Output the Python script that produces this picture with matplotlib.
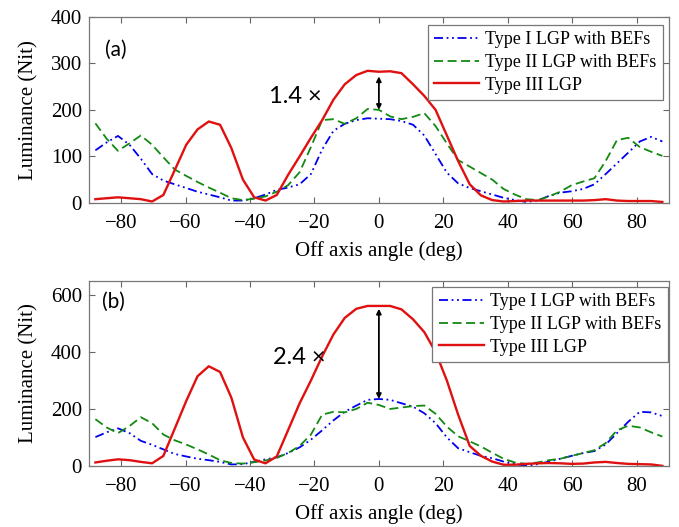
import matplotlib
matplotlib.use("Agg")
import matplotlib.pyplot as plt

plt.rcParams['font.family'] = ['Liberation Serif', 'DejaVu Serif']

# Off-axis angles (deg) shared by all measured profiles
ANGLES = [-88.0, -84.5, -81.0, -77.4, -73.9, -70.4, -66.9, -63.4, -59.8, -56.3,
          -52.8, -49.3, -45.8, -42.2, -38.7, -35.2, -31.7, -28.2, -24.6, -21.1,
          -17.6, -14.1, -10.6, -7.0, -3.5, 0.0, 3.5, 7.0, 10.6, 14.1,
          17.6, 21.1, 24.6, 28.2, 31.7, 35.2, 38.7, 42.2, 45.8, 49.3,
          52.8, 56.3, 59.8, 63.4, 66.9, 70.4, 73.9, 77.4, 81.0, 84.5, 88.0]

# (a) luminance (Nit)
type1_a = [113, 130, 144, 125, 95, 62, 48, 40, 32, 24,
           18, 12, 5, 5, 10, 18, 28, 33, 40, 62,
           115, 155, 170, 178, 182, 181, 180, 176, 168, 145,
           105, 65, 42, 32, 25, 18, 11, 6, 2, 5,
           15, 22, 25, 30, 40, 62, 85, 108, 132, 142, 132]
type2_a = [171, 138, 112, 128, 145, 125, 98, 72, 58, 45,
           33, 22, 10, 6, 9, 14, 24, 38, 66, 120,
           178, 180, 170, 182, 202, 200, 186, 180, 185, 193,
           165, 128, 92, 78, 64, 50, 30, 18, 8, 6,
           14, 24, 38, 46, 53, 90, 135, 140, 120, 110, 101]
type3_a = [8, 10, 12, 10, 8, 3, 17, 70, 125, 158,
           175, 168, 118, 50, 12, 5, 17, 60, 100, 140,
           178, 222, 255, 275, 284, 282, 283, 279, 255, 230,
           200, 145, 90, 40, 16, 6, 3, 4, 5, 5,
           5, 5, 5, 5, 6, 8, 5, 4, 4, 4, 2]

# (b) luminance (Nit)
type1_b = [101, 118, 132, 115, 88, 74, 58, 42, 33, 25,
           20, 14, 5, 6, 14, 23, 30, 45, 65, 92,
           125, 160, 190, 212, 232, 235, 232, 220, 208, 185,
           150, 100, 62, 48, 35, 27, 15, 6, 0, 6,
           15, 25, 35, 45, 52, 75, 115, 155, 190, 188, 175]
type2_b = [164, 135, 115, 140, 171, 150, 110, 90, 75, 58,
           40, 20, 10, 8, 13, 19, 28, 45, 70, 110,
           180, 190, 188, 200, 222, 214, 200, 205, 210, 212,
           183, 138, 104, 86, 68, 46, 25, 12, 7, 12,
           20, 25, 35, 45, 55, 80, 125, 141, 135, 118, 103]
type3_b = [12, 18, 23, 20, 14, 9, 35, 130, 228, 315,
           350, 330, 240, 100, 22, 9, 33, 125, 220, 300,
           385, 462, 520, 552, 562, 562, 562, 550, 515, 470,
           400, 300, 180, 70, 35, 15, 4, 4, 7, 9,
           10, 9, 7, 8, 12, 14, 10, 7, 6, 5, 0]

LABELS = ['Type I LGP with BEFs', 'Type II LGP with BEFs', 'Type III LGP']
XTICKS = [-80, -60, -40, -20, 0, 20, 40, 60, 80]

panels = [
    dict(data=(type1_a, type2_a, type3_a), ylim=(0, 400), yticks=[0, 100, 200, 300, 400],
         tag='(a)', tag_xy=(-85, 329), ratio_xy=(-34, 228), leg=(0.99, 0.957),
         rect=[0.131, 0.615, 0.854, 0.353]),
    dict(data=(type1_b, type2_b, type3_b), ylim=(0, 650), yticks=[0, 200, 400, 600],
         tag='(b)', tag_xy=(-86, 576), ratio_xy=(-33, 382), leg=(0.998, 0.968),
         rect=[0.131, 0.116, 0.854, 0.351]),
]

fig = plt.figure(figsize=(6.79, 5.27), dpi=100)

for p in panels:
    ax = fig.add_axes(p['rect'])
    t1, t2, t3 = p['data']
    ax.plot(ANGLES, t1, color='#0000ee', ls=(0, (5, 2, 1, 2, 1, 2)), lw=1.3, label=LABELS[0])
    ax.plot(ANGLES, t2, color='#128a12', ls=(0, (5, 2.5)), lw=1.3, label=LABELS[1])
    ax.plot(ANGLES, t3, color='#e01010', ls='-', lw=1.7, label=LABELS[2])

    ax.set_xlim(-90, 90)
    ax.set_ylim(*p['ylim'])
    ax.set_xticks(XTICKS)
    ax.set_yticks(p['yticks'])
    ax.tick_params(direction='in', top=True, right=True, length=4, labelsize=15,
                   color='#666666')
    ax.tick_params(axis='x', pad=8)
    ax.tick_params(axis='y', pad=5)
    for s in ax.spines.values():
        s.set_color('#777777')
        s.set_linewidth(0.9)
    ax.set_xlabel('Off axis angle (deg)', fontsize=15, labelpad=6)
    ax.set_ylabel('Luminance (Nit)', fontsize=15, labelpad=9)

    # gain of Type III over the better BEF design at normal incidence
    i0 = ANGLES.index(0.0)
    hi = t3[i0]
    lo = max(t1[i0], t2[i0])
    ax.annotate('', xy=(0, lo), xytext=(0, hi - 10),
                arrowprops=dict(arrowstyle='<|-|>', color='black', lw=1.3,
                                mutation_scale=7, shrinkA=0, shrinkB=0))
    ax.text(p['ratio_xy'][0], p['ratio_xy'][1], f'{hi / lo:.1f} \u00d7',
            family=['Lato', 'DejaVu Sans'], fontsize=17, va='center', ha='left')
    ax.text(p['tag_xy'][0], p['tag_xy'][1], p['tag'],
            family=['Lato', 'DejaVu Sans'], fontsize=15, va='center', ha='left')

    leg = ax.legend(loc='upper right', bbox_to_anchor=p['leg'], borderaxespad=0,
                    fontsize=13, handlelength=2.5, labelspacing=0.32,
                    fancybox=False, framealpha=1, edgecolor='#777777',
                    borderpad=0.35, handletextpad=0.35)
    leg.get_frame().set_linewidth(0.9)

fig.savefig('out.png', dpi=100)
